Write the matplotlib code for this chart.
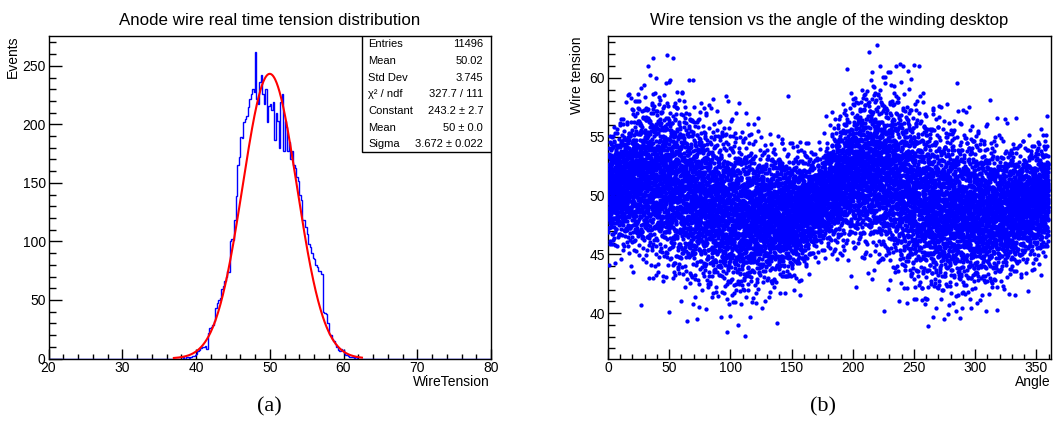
import numpy as np
import matplotlib
matplotlib.use("Agg")
import matplotlib.pyplot as plt
from matplotlib.patches import Rectangle
from matplotlib.ticker import MultipleLocator

plt.rcParams['font.family'] = ['Liberation Sans', 'DejaVu Sans']

# ---------------------------
# (a) tension histogram, 0.2 wide bins from 38.0 upwards
# ---------------------------
hist_start = 38.0
bin_width = 0.2
hist_counts = [
    0, 1, 0, 1, 1,      0, 1, 2, 2, 3,
    4, 6, 7, 9, 10,     10, 11, 8, 22, 26,
    27, 29, 32, 43, 47, 50, 52, 59, 62, 66,
    70, 75, 74, 100, 102, 101, 118, 139, 165, 172,
    189, 188, 202, 205, 207, 215, 222, 226, 230, 228,
    262, 222, 217, 236, 242, 226, 217, 230, 202, 216,
    217, 212, 219, 187, 210, 203, 180, 219, 226, 177,
    203, 198, 177, 185, 170, 177, 165, 163, 155, 152,
    140, 135, 118, 118, 112, 106, 98, 95, 90, 86,
    85, 80, 78, 75, 75, 72, 40, 39, 38, 30,
    21, 20, 17, 15, 12, 10, 7, 6, 8, 7,
    5, 3, 3, 2, 1,      1, 1, 0, 1, 0,
]

# gaussian fit parameters from the stat box
fit_const = 243.2
fit_mean = 50.0
fit_sigma = 3.672
fit_range = (37.0, 62.5)

stat_labels = ["Entries", "Mean", "Std Dev", "χ² / ndf", "Constant", "Mean", "Sigma"]
stat_values = ["11496", "50.02", "3.745", "327.7 / 111", "243.2 ± 2.7", "50 ± 0.0", "3.672 ± 0.022"]

# ---------------------------
# (b) tension vs angle: cloud profile read per 15 degree slice
# ---------------------------
n_points = 11496
slice_angle = [7.5, 22.5, 37.5, 52.5, 67.5, 82.5, 97.5, 112.5, 127.5, 142.5, 157.5, 172.5,
               187.5, 202.5, 217.5, 232.5, 247.5, 262.5, 277.5, 292.5, 307.5, 322.5, 337.5, 352.5]
slice_center = [50.8, 51.5, 51.6, 51.0, 50.0, 49.3, 48.6, 48.2, 48.3, 48.3, 48.6, 49.5,
                51.0, 52.0, 52.3, 51.5, 50.3, 49.3, 48.8, 48.6, 48.5, 48.7, 49.0, 49.6]
slice_spread = [2.2, 2.9, 3.3, 3.4, 3.5, 3.2, 3.3, 3.1, 2.7, 2.6, 2.3, 1.8,
                2.4, 2.9, 3.3, 3.4, 3.7, 3.5, 3.3, 3.2, 2.9, 2.6, 2.3, 2.2]


def halton(n, base):
    # van der Corput sequence, deterministic fill of [0, 1)
    i = np.arange(1, n + 1)
    f = 1.0
    r = np.zeros(n)
    while np.any(i > 0):
        f /= base
        r += f * (i % base)
        i //= base
    return r


# expand the slice profile into points with a Halton sequence (no RNG)
u1 = halton(n_points, 2)
u2 = halton(n_points, 3)
u3 = halton(n_points, 5)
angle = u1 * 360.0
ext_a = np.concatenate([[slice_angle[-1] - 360], slice_angle, [slice_angle[0] + 360]])
ext_c = np.concatenate([[slice_center[-1]], slice_center, [slice_center[0]]])
ext_s = np.concatenate([[slice_spread[-1]], slice_spread, [slice_spread[0]]])
z = np.sqrt(-2 * np.log(np.clip(u2, 1e-6, 1))) * np.cos(2 * np.pi * u3)
tension = np.interp(angle, ext_a, ext_c) + np.interp(angle, ext_a, ext_s) * z


fig = plt.figure(figsize=(10.59, 4.23), dpi=100)

# ---- left panel ----
ax1 = fig.add_axes([48.5 / 1059, 64.5 / 423, 442.5 / 1059, 322.5 / 423])
edges = np.linspace(20, 80, 301)
full = np.zeros(300)
i0 = int(round((hist_start - 20) / bin_width))
full[i0:i0 + len(hist_counts)] = hist_counts
ax1.stairs(full, edges, color='blue', lw=1.0, zorder=3)

xf = np.linspace(fit_range[0], fit_range[1], 400)
ax1.plot(xf, fit_const * np.exp(-0.5 * ((xf - fit_mean) / fit_sigma) ** 2), color='red', lw=1.5, zorder=4)

ax1.set_xlim(20, 80)
ax1.set_ylim(0, 275.5)
ax1.xaxis.set_major_locator(MultipleLocator(10))
ax1.xaxis.set_minor_locator(MultipleLocator(2))
ax1.yaxis.set_major_locator(MultipleLocator(50))
ax1.yaxis.set_minor_locator(MultipleLocator(10))
ax1.tick_params(axis='x', which='major', direction='in', length=7, width=1, labelsize=10, pad=2)
ax1.tick_params(axis='x', which='minor', direction='in', length=3.5, width=1)
ax1.tick_params(axis='y', which='major', direction='in', length=9.5, width=1, labelsize=10, pad=2)
ax1.tick_params(axis='y', which='minor', direction='in', length=4.7, width=1)
for s in ax1.spines.values():
    s.set_linewidth(1)
ax1.set_title("Anode wire real time tension distribution", fontsize=12.2, pad=8)
fig.text(490 / 1059, 1 - 382 / 423, "WireTension", ha='right', va='center', fontsize=10)
fig.text(13 / 1059, 1 - 36 / 423, "Events", rotation=90, ha='center', va='top', fontsize=10)

# stat box
ax1.add_patch(Rectangle((0.708, 0.64), 0.292, 0.36, transform=ax1.transAxes,
                        facecolor='white', edgecolor='black', lw=1, zorder=5))
for r in range(len(stat_labels)):
    yy = (358.5 - (44.3 + 16.67 * r)) / 322.5
    ax1.text(0.722, yy, stat_labels[r], transform=ax1.transAxes, ha='left', va='center', fontsize=8, zorder=6)
    ax1.text(0.982, yy, stat_values[r], transform=ax1.transAxes, ha='right', va='center', fontsize=8, zorder=6)

# ---- right panel ----
ax2 = fig.add_axes([608 / 1059, 64.5 / 423, 443 / 1059, 322.5 / 423])
ax2.scatter(angle, tension, s=9.5, color='blue', linewidths=0, zorder=3)
ax2.set_xlim(0, 362)
ax2.set_ylim(36.15, 63.55)
ax2.xaxis.set_major_locator(MultipleLocator(50))
ax2.xaxis.set_minor_locator(MultipleLocator(10))
ax2.yaxis.set_major_locator(MultipleLocator(5))
ax2.yaxis.set_minor_locator(MultipleLocator(1))
ax2.tick_params(axis='x', which='major', direction='in', length=7, width=1, labelsize=10, pad=2)
ax2.tick_params(axis='x', which='minor', direction='in', length=3.5, width=1)
ax2.tick_params(axis='y', which='major', direction='in', length=9.5, width=1, labelsize=10, pad=2)
ax2.tick_params(axis='y', which='minor', direction='in', length=4.7, width=1)
for s in ax2.spines.values():
    s.set_linewidth(1)
ax2.set_title("Wire tension vs the angle of the winding desktop", fontsize=12, pad=8)
fig.text(1051 / 1059, 1 - 382 / 423, "Angle", ha='right', va='center', fontsize=10)
fig.text(577 / 1059, 1 - 36 / 423, "Wire tension", rotation=90, ha='center', va='top', fontsize=10)

# panel captions
fig.text(269 / 1059, 1 - 407 / 423, "(a)", ha='center', va='center', fontsize=16, family='Liberation Serif')
fig.text(823 / 1059, 1 - 407 / 423, "(b)", ha='center', va='center', fontsize=16, family='Liberation Serif')

fig.savefig("out.png", dpi=100)
